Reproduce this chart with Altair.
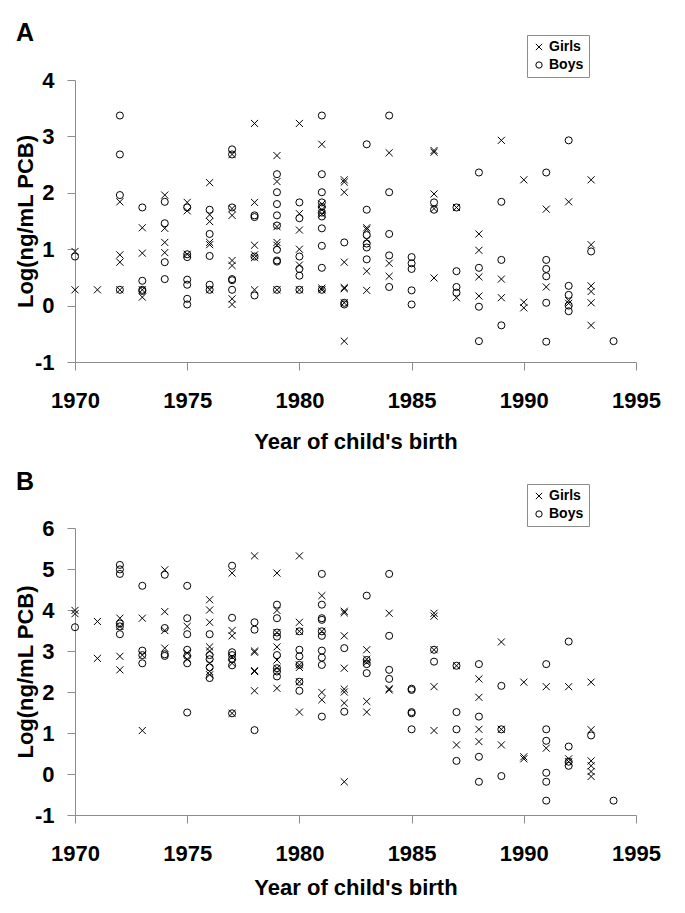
import altair as alt
import pandas as pd

X_TICKS = [1970, 1975, 1980, 1985, 1990, 1995]
SERIES = ["Girls", "Boys"]
PANEL_LABELS = ["A", "B"]

# Panel A values (year -> list of log values)
A_GIRLS = {
    1970: [0.96, 0.28], 1971: [0.28], 1972: [1.84, 0.90, 0.77, 0.28],
    1973: [1.38, 0.93, 0.28, 0.15], 1974: [1.96, 1.37, 1.12, 0.94],
    1975: [1.83, 1.68, 0.91], 1976: [2.18, 1.61, 1.49, 1.12, 1.08, 0.28],
    1977: [2.68, 1.72, 1.60, 0.80, 0.71, 0.12, 0.02],
    1978: [3.23, 1.83, 1.07, 0.90, 0.85, 0.28],
    1979: [2.66, 2.20, 1.40, 1.12, 1.07, 0.28],
    1980: [3.23, 1.63, 1.34, 1.00, 0.72, 0.28],
    1981: [2.86, 1.80, 1.70, 1.62, 0.31, 0.28],
    1982: [2.23, 2.19, 2.01, 0.77, 0.32, 0.30, 0.05, -0.63],
    1983: [1.38, 1.35, 1.17, 0.61, 0.27], 1984: [2.71, 0.75, 0.52],
    1986: [2.75, 2.72, 1.98, 1.72, 0.49], 1987: [1.74, 0.14],
    1988: [1.27, 0.98, 0.51, 0.17], 1989: [2.93, 0.47, 0.14],
    1990: [2.23, 0.06, -0.04], 1991: [1.71, 0.33], 1992: [1.84, 0.09, 0.04],
    1993: [2.23, 1.08, 0.35, 0.25, 0.05, -0.35],
}
A_BOYS = {
    1970: [0.87], 1972: [3.37, 2.68, 1.96, 0.28], 1973: [1.74, 0.44, 0.28, 0.26],
    1974: [1.84, 1.46, 0.77, 0.47], 1975: [1.74, 0.91, 0.86, 0.46, 0.37, 0.12, 0.02],
    1976: [1.70, 1.27, 0.88, 0.37, 0.28], 1977: [2.77, 2.68, 1.74, 0.47, 0.45, 0.28],
    1978: [1.60, 1.57, 0.87, 0.18],
    1979: [2.33, 2.01, 1.80, 1.60, 1.42, 0.99, 0.80, 0.78, 0.28],
    1980: [1.83, 1.55, 0.87, 0.65, 0.53, 0.28],
    1981: [3.37, 2.33, 2.01, 1.83, 1.75, 1.65, 1.58, 1.37, 1.06, 0.67, 0.28],
    1982: [1.12, 0.05, 0.02], 1983: [2.86, 1.70, 1.25, 1.10, 1.03, 0.82],
    1984: [3.37, 2.01, 1.27, 0.89, 0.33], 1985: [0.86, 0.75, 0.65, 0.27, 0.02],
    1986: [1.83, 1.70], 1987: [1.74, 0.61, 0.33, 0.23],
    1988: [2.36, 0.67, -0.02, -0.63], 1989: [1.84, 0.81, -0.35],
    1991: [2.36, 0.81, 0.65, 0.52, 0.05, -0.64], 1992: [2.93, 0.35, 0.19, 0.0, -0.10],
    1993: [0.96], 1994: [-0.63],
}

# Panel B values
B_GIRLS = {
    1970: [3.99, 3.91], 1971: [3.72, 2.82], 1972: [3.80, 3.60, 2.87, 2.54],
    1973: [3.80, 2.90, 1.06], 1974: [4.98, 3.96, 3.50, 3.07], 1975: [3.60, 2.95, 2.80],
    1976: [4.25, 4.00, 3.70, 3.10, 3.00, 2.70, 2.50, 2.42],
    1977: [4.90, 3.50, 3.37, 2.85, 2.70, 1.48],
    1978: [5.32, 3.00, 2.97, 2.52, 2.50, 2.03],
    1979: [4.90, 3.99, 3.45, 3.10, 2.78, 2.58, 2.09],
    1980: [5.32, 3.70, 3.48, 2.66, 2.60, 2.25, 1.51],
    1981: [4.35, 3.48, 1.99, 1.81],
    1982: [3.97, 3.93, 3.37, 2.58, 2.07, 2.00, 1.73, -0.19],
    1983: [3.03, 2.80, 2.72, 1.77, 1.51], 1984: [3.92, 2.08, 2.05],
    1986: [3.92, 3.85, 3.03, 2.13, 1.06], 1987: [2.64, 0.71],
    1988: [2.32, 1.87, 1.09, 0.79], 1989: [3.22, 1.09, 0.71],
    1990: [2.24, 0.42, 0.37], 1991: [2.13, 0.63], 1992: [2.13, 0.37, 0.30],
    1993: [2.24, 1.08, 0.32, 0.20, 0.06, -0.06],
}
B_BOYS = {
    1970: [3.58], 1972: [5.10, 4.99, 4.88, 3.67, 3.60, 3.41],
    1973: [4.59, 3.01, 2.90, 2.70], 1974: [4.86, 3.56, 2.92, 2.88],
    1975: [4.59, 3.80, 3.41, 3.03, 2.88, 2.70, 1.50],
    1976: [3.41, 2.90, 2.80, 2.60, 2.34],
    1977: [5.08, 3.81, 2.97, 2.90, 2.80, 2.65, 1.48], 1978: [3.70, 3.52, 1.07],
    1979: [4.13, 3.80, 3.45, 3.35, 2.90, 2.58, 2.50, 2.38],
    1980: [3.48, 3.03, 2.87, 2.66, 2.25, 2.03],
    1981: [4.88, 4.13, 3.80, 3.76, 3.48, 3.37, 3.01, 2.84, 2.66, 1.40],
    1982: [3.07, 1.52], 1983: [4.35, 2.78, 2.68, 2.46], 1984: [4.88, 3.37, 2.54, 2.32],
    1985: [2.08, 2.05, 1.51, 1.48, 1.09], 1986: [3.03, 2.74],
    1987: [2.64, 1.51, 1.09, 0.32], 1988: [2.68, 1.40, 0.42, -0.19],
    1989: [2.15, 1.09, -0.05], 1991: [2.68, 1.09, 0.81, 0.03, -0.19, -0.65],
    1992: [3.23, 0.67, 0.30, 0.20], 1993: [0.94], 1994: [-0.65],
}

FONT = "Liberation Sans"
GREY = "#8c8c8c"
X_PATH = "M-1,-1L1,1M-1,1L1,-1"


def to_df(girls, boys):
    rows = []
    for sex, d in (("Girls", girls), ("Boys", boys)):
        for yr, vals in d.items():
            for v in vals:
                rows.append({"year": yr, "value": v, "sex": sex})
    return pd.DataFrame(rows)


def panel(df, label, ymin, ymax, h, legend_y, label_y, xtitle_y):
    points = alt.Chart(df).mark_point(
        filled=False, color="black", strokeWidth=1, size=50, opacity=1
    ).encode(
        x=alt.X("year:Q",
                scale=alt.Scale(domain=[1970, 1995], nice=False, zero=False),
                axis=alt.Axis(values=X_TICKS, format="d", title="Year of child's birth",
                              labelPadding=20, labelFlush=False,
                              titleY=xtitle_y, titleBaseline="middle")),
        y=alt.Y("value:Q",
                scale=alt.Scale(domain=[ymin, ymax], nice=False, zero=False),
                axis=alt.Axis(values=list(range(ymin, ymax + 1)), title="Log(ng/mL PCB)",
                              labelPadding=13, labelFlush=False,
                              labelExpr="'' + datum.value",
                              titleX=-50, titleY=h / 2, titleBaseline="middle")),
        shape=alt.Shape("sex:N",
                        scale=alt.Scale(domain=SERIES, range=[X_PATH, "circle"]),
                        legend=alt.Legend(title=None, orient="none", legendX=452,
                                          legendY=legend_y)),
    )
    tag = alt.Chart(pd.DataFrame({"label": [label]})).mark_text(
        align="left", baseline="alphabetic", font=FONT, fontSize=25,
        fontWeight="bold", color="black",
    ).encode(text="label:N", x=alt.value(-59), y=alt.value(label_y))
    return alt.layer(points, tag).properties(width=561, height=h)


pa = panel(to_df(A_GIRLS, A_BOYS), PANEL_LABELS[0], -1, 4, 282, -45, -39, 79)
pb = panel(to_df(B_GIRLS, B_BOYS), PANEL_LABELS[1], -1, 6, 287, -44, -38, 72)

chart = alt.vconcat(pa, pb, spacing=18).resolve_scale(
    shape="independent", y="independent"
).resolve_legend(shape="independent").properties(
    padding={"top": 13, "left": 6, "right": 5, "bottom": 5}
).configure_view(strokeWidth=0).configure_axis(
    grid=False, domainColor=GREY, tickColor=GREY, tickSize=8,
    labelFont=FONT, labelFontSize=22, labelFontWeight="bold", labelColor="black",
    titleFont=FONT, titleFontSize=22, titleFontWeight="bold", titleColor="black",
).configure_legend(
    strokeColor=GREY, padding=5, labelFont=FONT, labelFontSize=14,
    labelFontWeight="bold", labelColor="black", symbolSize=40,
    symbolStrokeColor="black", symbolStrokeWidth=1, symbolFillColor="transparent",
    labelOffset=3, rowPadding=4, fillColor="white",
)

chart.save("out.html", embed_options={"renderer": "svg", "actions": False})
